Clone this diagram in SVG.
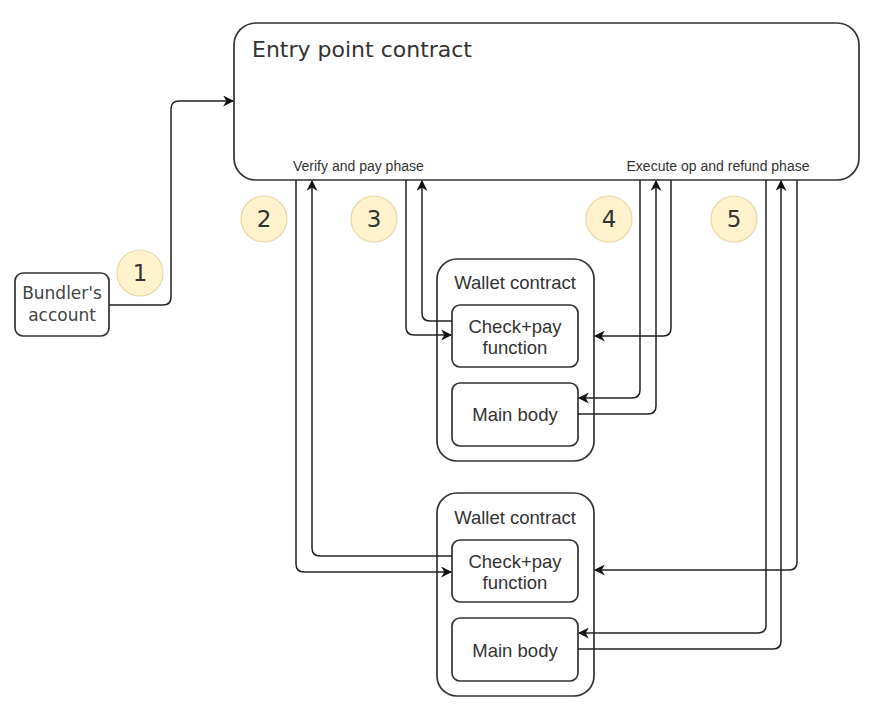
<svg xmlns="http://www.w3.org/2000/svg" width="884" height="708" viewBox="0 0 884 708">
<style>
.box{fill:#fff;stroke:#333;stroke-width:1.7}
.c{fill:none;stroke:#222;stroke-width:1.5}
.num{fill:#fff2cc;stroke:#e6d9a8;stroke-width:1.2}
.nt{font-family:"DejaVu Sans",sans-serif;font-size:23px;fill:#333;text-anchor:middle}
.lab{font-family:"Liberation Sans",Arial,sans-serif;font-size:18.5px;fill:#333;text-anchor:middle}
.ph{font-family:"Liberation Sans",Arial,sans-serif;font-size:14px;fill:#333}
</style>
<defs>
<marker id="ar" viewBox="0 0 10 10" refX="9" refY="5" markerWidth="11" markerHeight="11" markerUnits="userSpaceOnUse" orient="auto">
<path d="M0,0 L10,5 L0,10 L3,5 Z" fill="#111"/>
</marker>
</defs>
<rect width="884" height="708" fill="#fff"/>
<g id="entry">
<rect class="box" x="234" y="23" width="625" height="157" rx="22"/>
<text x="252" y="57" font-family="DejaVu Sans,sans-serif" font-size="22" fill="#333">Entry point contract</text>
<text class="ph" x="293" y="171">Verify and pay phase</text>
<text class="ph" x="718" y="171" text-anchor="middle">Execute op and refund phase</text>
</g>
<g id="bundler">
<rect class="box" x="15" y="273" width="94" height="63" rx="8"/>
<text x="62" y="299" font-family="DejaVu Sans,sans-serif" font-size="17" fill="#444" text-anchor="middle">Bundler's</text>
<text x="62" y="321" font-family="DejaVu Sans,sans-serif" font-size="17" fill="#444" text-anchor="middle">account</text>
</g>
<g id="wallet1">
<rect class="box" x="437" y="259" width="157" height="202" rx="20"/>
<text class="lab" x="515" y="289">Wallet contract</text>
<rect class="box" x="452" y="305" width="126" height="62" rx="8"/>
<text class="lab" x="515" y="333">Check+pay</text>
<text class="lab" x="515" y="354">function</text>
<rect class="box" x="452" y="383" width="126" height="63" rx="8"/>
<text class="lab" x="515" y="421">Main body</text>
</g>
<g id="wallet2">
<rect class="box" x="437" y="493" width="157" height="203" rx="20"/>
<text class="lab" x="515" y="524">Wallet contract</text>
<rect class="box" x="452" y="540" width="126" height="62" rx="8"/>
<text class="lab" x="515" y="568">Check+pay</text>
<text class="lab" x="515" y="589">function</text>
<rect class="box" x="452" y="618" width="126" height="63" rx="8"/>
<text class="lab" x="515" y="657">Main body</text>
</g>
<g id="connectors">
<path class="c" d="M109,305 H163 Q171,305 171,297 V109 Q171,101 179,101 H233" marker-end="url(#ar)"/>
<path class="c" d="M296,180 V564 Q296,572 304,572 H451" marker-end="url(#ar)"/>
<path class="c" d="M452,556 H320 Q312,556 312,548 V181" marker-end="url(#ar)"/>
<path class="c" d="M406,180 V327 Q406,335 414,335 H451" marker-end="url(#ar)"/>
<path class="c" d="M452,321 H430 Q422,321 422,313 V181" marker-end="url(#ar)"/>
<path class="c" d="M671,180 V328 Q671,336 663,336 H595" marker-end="url(#ar)"/>
<path class="c" d="M640,180 V390 Q640,398 632,398 H579" marker-end="url(#ar)"/>
<path class="c" d="M578,414 H648 Q656,414 656,406 V181" marker-end="url(#ar)"/>
<path class="c" d="M797,180 V562 Q797,570 789,570 H595" marker-end="url(#ar)"/>
<path class="c" d="M766,180 V625 Q766,633 758,633 H579" marker-end="url(#ar)"/>
<path class="c" d="M578,649 H773 Q781,649 781,641 V181" marker-end="url(#ar)"/>
</g>
<g id="steps">
<circle class="num" cx="140" cy="273" r="23"/><text class="nt" x="140" y="281">1</text>
<circle class="num" cx="264" cy="219" r="23"/><text class="nt" x="264" y="227">2</text>
<circle class="num" cx="374" cy="219" r="23"/><text class="nt" x="374" y="227">3</text>
<circle class="num" cx="609" cy="219" r="23"/><text class="nt" x="609" y="227">4</text>
<circle class="num" cx="734" cy="219" r="23"/><text class="nt" x="734" y="227">5</text>
</g>
</svg>
